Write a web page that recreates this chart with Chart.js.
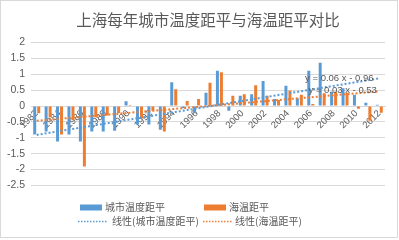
<!DOCTYPE html>
<html><head><meta charset="utf-8">
<script src="https://cdn.jsdelivr.net/npm/chart.js@4/dist/chart.umd.min.js"></script>
<style>html,body{margin:0;padding:0;background:#fff;} canvas{display:block;}</style>
</head><body>
<canvas id="c" width="399" height="240"></canvas>
<script>
const years = ['1982','1983','1984','1985','1986','1987','1988','1989','1990','1991','1992','1993','1994','1995','1996','1997','1998','1999','2000','2001','2002','2003','2004','2005','2006','2007','2008','2009','2010','2011','2012'];
const cityAnomaly = [-0.9,-0.8,-1.12,-0.9,-1.12,-0.8,-0.8,-0.78,0.15,-0.58,-0.58,-0.75,0.75,-0.07,-0.23,0.42,1.11,-0.15,0.32,0.37,0.79,0.22,0.64,0.24,1.11,1.36,0.45,0.56,0.35,0.1,0.04];
const seaAnomaly = [-0.23,-0.35,-0.9,-0.45,-1.9,-0.35,-0.3,-0.22,0.03,-0.39,-0.15,-0.8,0.53,0.16,0.22,0.73,1.06,0.32,0.37,0.65,0.32,0.19,0.49,0.35,0.06,0.4,0.45,0.42,-0.09,-0.46,-0.21];
const yTickValues = [-2.5,-2,-1.5,-1,-0.5,0,0.5,1,1.5,2];
const seriesNames = ['城市温度距平','海温距平'];
const trendNames = ['线性(城市温度距平)','线性(海温距平)'];
const equationLabels = ['y = 0.06 x - 0.96','y = 0.03 x - 0.53'];
const titleText = '上海每年城市温度距平与海温距平对比';

const BLUE = '#5B9BD5', ORANGE = '#ED7D31', TXT = '#595959', GRID = '#d9d9d9';
const FONT_CJK = '"Noto Sans CJK SC", "Noto Sans", sans-serif';
const FONT_NUM = '"Liberation Sans", Arial, sans-serif';

// least-squares linear trend (x = 1..n), like Excel's linear trendline
function linearTrend(vals) {
  const n = vals.length;
  let sx = 0, sy = 0, sxx = 0, sxy = 0;
  vals.forEach((v, i) => { const x = i + 1; sx += x; sy += v; sxx += x * x; sxy += x * v; });
  const b = (n * sxy - sx * sy) / (n * sxx - sx * sx);
  const a = (sy - b * sx) / n;
  return vals.map((_, i) => a + b * (i + 1));
}
const cityTrend = linearTrend(cityAnomaly);
const seaTrend = linearTrend(seaAnomaly);

const bgPlugin = {
  id: 'bg',
  beforeDraw(chart) {
    const ctx = chart.ctx;
    ctx.save();
    ctx.fillStyle = '#fff';
    ctx.fillRect(0, 0, chart.width, chart.height);
    ctx.strokeStyle = GRID;
    ctx.lineWidth = 1;
    ctx.strokeRect(0.5, 0.5, chart.width - 2, chart.height - 3);
    ctx.restore();
  }
};

const equationPlugin = {
  id: 'equations',
  afterDraw(chart) {
    const ctx = chart.ctx, xs = chart.scales.x, ys = chart.scales.y;
    ctx.save();
    ctx.font = '9.5px ' + FONT_NUM;
    ctx.fillStyle = TXT;
    ctx.textBaseline = 'middle';
    ctx.textAlign = 'left';
    ctx.fillText(equationLabels[0], xs.getPixelForValue(23.5), ys.getPixelForValue(0.88));
    ctx.fillText(equationLabels[1], xs.getPixelForValue(23.8), ys.getPixelForValue(0.5));
    ctx.restore();
  }
};

const legendPlugin = {
  id: 'customLegend',
  afterDraw(chart) {
    const ctx = chart.ctx;
    ctx.save();
    ctx.font = '10px ' + FONT_CJK;
    ctx.fillStyle = TXT;
    ctx.textBaseline = 'middle';
    ctx.textAlign = 'left';
    const r1 = 207.5, r2 = 221.5;
    ctx.fillStyle = BLUE; ctx.fillRect(80, r1 - 3, 22, 6);
    ctx.fillStyle = ORANGE; ctx.fillRect(204, r1 - 3, 22, 6);
    ctx.fillStyle = TXT;
    ctx.fillText(seriesNames[0], 105, r1);
    ctx.fillText(seriesNames[1], 229, r1);
    ctx.lineWidth = 1.5;
    ctx.setLineDash([1.5, 1.5]);
    ctx.strokeStyle = BLUE;
    ctx.beginPath(); ctx.moveTo(78, r2); ctx.lineTo(107, r2); ctx.stroke();
    ctx.strokeStyle = ORANGE;
    ctx.beginPath(); ctx.moveTo(203, r2); ctx.lineTo(232, r2); ctx.stroke();
    ctx.setLineDash([]);
    ctx.fillStyle = TXT;
    ctx.fillText(trendNames[0], 112, r2);
    ctx.fillText(trendNames[1], 235, r2);
    ctx.restore();
  }
};

new Chart(document.getElementById('c'), {
  type: 'bar',
  data: {
    labels: years,
    datasets: [
      { type: 'bar', label: seriesNames[0], data: cityAnomaly, backgroundColor: BLUE, order: 2, categoryPercentage: 0.7, barPercentage: 0.75 },
      { type: 'bar', label: seriesNames[1], data: seaAnomaly, backgroundColor: ORANGE, order: 2, categoryPercentage: 0.7, barPercentage: 0.75 },
      { type: 'line', label: trendNames[0], data: cityTrend, borderColor: BLUE, borderWidth: 2, borderDash: [2, 2], pointRadius: 0, fill: false, tension: 0, order: 1 },
      { type: 'line', label: trendNames[1], data: seaTrend, borderColor: ORANGE, borderWidth: 2, borderDash: [2, 2], pointRadius: 0, fill: false, tension: 0, order: 1 }
    ]
  },
  options: {
    responsive: false,
    animation: false,
    devicePixelRatio: 1,
    layout: { padding: { left: 0, right: 14, top: 0, bottom: 54.5 } },
    plugins: {
      legend: { display: false },
      tooltip: { enabled: false },
      title: {
        display: true, text: titleText, color: TXT, fullSize: false,
        font: { family: FONT_CJK, size: 15.5, weight: 'normal' },
        padding: { top: 11, bottom: 12.8 }
      }
    },
    scales: {
      x: {
        position: { y: 0 },
        z: 1,
        grid: { display: false, drawTicks: false },
        border: { display: true, color: GRID },
        ticks: {
          autoSkip: false, minRotation: 45, maxRotation: 45, padding: 2,
          color: TXT, font: { family: FONT_NUM, size: 9.5 },
          callback: function (v, i) { return i % 2 === 0 ? this.getLabelForValue(v) : ''; }
        }
      },
      y: {
        min: -2.5, max: 2,
        afterBuildTicks: (s) => { s.ticks = yTickValues.map(v => ({ value: v })); },
        ticks: { padding: 6, color: TXT, font: { family: FONT_NUM, size: 10.5 }, callback: (v) => String(v) },
        grid: { color: GRID, drawTicks: false },
        border: { display: false },
        afterFit: (s) => { s.width = 31; }
      }
    }
  },
  plugins: [bgPlugin, legendPlugin, equationPlugin]
});
</script>
</body></html>
